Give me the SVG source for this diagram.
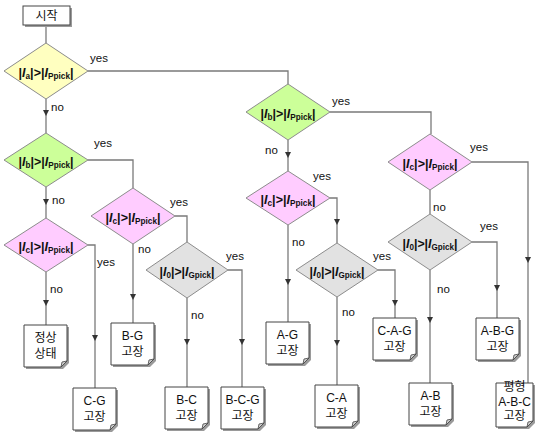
<svg xmlns="http://www.w3.org/2000/svg" xmlns:xlink="http://www.w3.org/1999/xlink" width="536" height="432" viewBox="0 0 536 432">
<style>
.c{fill:none;stroke:#7a7a7a;stroke-width:1.3}
.d{stroke:#8c8c8c;stroke-width:1}
.y{fill:#ffffc0}.g{fill:#ccff99}.p{fill:#ffccff}.q{fill:#e2e2e2}
.dt{font-family:"Liberation Sans",Arial,sans-serif;font-size:13px;font-weight:bold;fill:#111;text-anchor:middle}
.s{font-size:8.5px}
.i{font-style:italic}
.lb{font-family:"Liberation Sans",Arial,sans-serif;font-size:11.5px;fill:#111}
.bt{font-family:"Liberation Sans","Noto Sans CJK KR",sans-serif;font-size:12px;fill:#111;text-anchor:middle}
</style>
<defs>
<path id="ah" d="M-3,-3 L3,-3 L0,3 Z" fill="#333"/>
<g id="doc">
<path d="M2,2 h43 v36 l-6,6 h-37 z" fill="#9a9a9a"/>
<path d="M0,0 h43 v36 l-6,6 h-37 z" fill="#fff" stroke="#444" stroke-width="1"/>
<path d="M43,36 l-6,6 l1,-5 z" fill="#d0d0d0" stroke="#444" stroke-width="0.8"/>
</g>
<g id="doc2">
<path d="M2,2 h37 v38 l-6,6 h-31 z" fill="#9a9a9a"/>
<path d="M0,0 h37 v38 l-6,6 h-31 z" fill="#fff" stroke="#444" stroke-width="1"/>
<path d="M37,38 l-6,6 l1,-5 z" fill="#d0d0d0" stroke="#444" stroke-width="0.8"/>
</g>
</defs>

<g id="connectors">
<path class="c" d="M46,25 V43"/>
<path class="c" d="M46,99 V133"/>
<path class="c" d="M88,71 H288 V84"/>
<path class="c" d="M88,160 H133 V188"/>
<path class="c" d="M46,187 V218"/>
<path class="c" d="M46,272 V325"/>
<path class="c" d="M88,245 H95 V388"/>
<path class="c" d="M133,244 V323"/>
<path class="c" d="M175,216 H187 V242"/>
<path class="c" d="M187,298 V387"/>
<path class="c" d="M228,270 H242 V387"/>
<path class="c" d="M330,112 H431 V134"/>
<path class="c" d="M288,140 V171"/>
<path class="c" d="M288,225 V322"/>
<path class="c" d="M330,198 H337 V243"/>
<path class="c" d="M378,270 H395 V318"/>
<path class="c" d="M337,297 V385"/>
<path class="c" d="M472,162 H528 V383"/>
<path class="c" d="M430,190 V214"/>
<path class="c" d="M472,242 H497 V318"/>
<path class="c" d="M430,270 V383"/>
<use xlink:href="#ah" x="46" y="113"/>
<use xlink:href="#ah" x="46" y="202"/>
<use xlink:href="#ah" x="46" y="303"/>
<use xlink:href="#ah" x="95" y="338"/>
<use xlink:href="#ah" x="133" y="297"/>
<use xlink:href="#ah" x="187" y="342"/>
<use xlink:href="#ah" x="242" y="342"/>
<use xlink:href="#ah" x="288" y="155"/>
<use xlink:href="#ah" x="337" y="222"/>
<use xlink:href="#ah" x="288" y="282"/>
<use xlink:href="#ah" x="395" y="303"/>
<use xlink:href="#ah" x="337" y="343"/>
<use xlink:href="#ah" x="528" y="260"/>
<use xlink:href="#ah" x="497" y="288"/>
<use xlink:href="#ah" x="430" y="320"/>
<text class="lb" x="90" y="62">yes</text>
<text class="lb" x="51" y="111">no</text>
<text class="lb" x="94" y="147">yes</text>
<text class="lb" x="52" y="204">no</text>
<text class="lb" x="97" y="266">yes</text>
<text class="lb" x="50" y="293">no</text>
<text class="lb" x="170" y="206">yes</text>
<text class="lb" x="138" y="253">no</text>
<text class="lb" x="226" y="260">yes</text>
<text class="lb" x="191" y="319">no</text>
<text class="lb" x="332" y="105">yes</text>
<text class="lb" x="265" y="154">no</text>
<text class="lb" x="313" y="180">yes</text>
<text class="lb" x="292" y="246">no</text>
<text class="lb" x="373" y="260">yes</text>
<text class="lb" x="342" y="316">no</text>
<text class="lb" x="470" y="151">yes</text>
<text class="lb" x="433" y="211">no</text>
<text class="lb" x="480" y="230">yes</text>
<text class="lb" x="437" y="293">no</text>
</g>

<g id="start">
<rect x="25" y="8" width="47" height="19" fill="#9a9a9a"/>
<rect x="23" y="6" width="47" height="19" fill="#fff" stroke="#444"/>
<text class="bt" x="46.5" y="20">시작</text>
</g>

<g id="d1">
<polygon class="d y" points="46,43 88,71 46,99 4,71"/>
<text class="dt" x="46" y="77" textLength="55" lengthAdjust="spacingAndGlyphs">|<tspan class="i">I</tspan><tspan class="s" dy="2">a</tspan><tspan dy="-2">|&gt;|</tspan><tspan class="i">I</tspan><tspan class="s" dy="2">Ppick</tspan><tspan dy="-2">|</tspan></text>
</g>
<g id="d2">
<polygon class="d g" points="46,133 88,160 46,187 4,160"/>
<text class="dt" x="46" y="166" textLength="55" lengthAdjust="spacingAndGlyphs">|<tspan class="i">I</tspan><tspan class="s" dy="2">b</tspan><tspan dy="-2">|&gt;|</tspan><tspan class="i">I</tspan><tspan class="s" dy="2">Ppick</tspan><tspan dy="-2">|</tspan></text>
</g>
<g id="d3">
<polygon class="d p" points="46,218 88,245 46,272 4,245"/>
<text class="dt" x="46" y="251" textLength="55" lengthAdjust="spacingAndGlyphs">|<tspan class="i">I</tspan><tspan class="s" dy="2">c</tspan><tspan dy="-2">|&gt;|</tspan><tspan class="i">I</tspan><tspan class="s" dy="2">Ppick</tspan><tspan dy="-2">|</tspan></text>
</g>
<g id="d4">
<polygon class="d p" points="133,188 175,216 133,244 91,216"/>
<text class="dt" x="133" y="222" textLength="55" lengthAdjust="spacingAndGlyphs">|<tspan class="i">I</tspan><tspan class="s" dy="2">c</tspan><tspan dy="-2">|&gt;|</tspan><tspan class="i">I</tspan><tspan class="s" dy="2">Ppick</tspan><tspan dy="-2">|</tspan></text>
</g>
<g id="d5">
<polygon class="d q" points="187,242 228,270 187,298 146,270"/>
<text class="dt" x="187" y="276" textLength="55" lengthAdjust="spacingAndGlyphs">|<tspan class="i">I</tspan><tspan class="s" dy="2">0</tspan><tspan dy="-2">|&gt;|</tspan><tspan class="i">I</tspan><tspan class="s" dy="2">Gpick</tspan><tspan dy="-2">|</tspan></text>
</g>
<g id="d6">
<polygon class="d g" points="288,84 330,112 288,140 246,112"/>
<text class="dt" x="288" y="118" textLength="55" lengthAdjust="spacingAndGlyphs">|<tspan class="i">I</tspan><tspan class="s" dy="2">b</tspan><tspan dy="-2">|&gt;|</tspan><tspan class="i">I</tspan><tspan class="s" dy="2">Ppick</tspan><tspan dy="-2">|</tspan></text>
</g>
<g id="d7">
<polygon class="d p" points="288,171 330,198 288,225 246,198"/>
<text class="dt" x="288" y="204" textLength="55" lengthAdjust="spacingAndGlyphs">|<tspan class="i">I</tspan><tspan class="s" dy="2">c</tspan><tspan dy="-2">|&gt;|</tspan><tspan class="i">I</tspan><tspan class="s" dy="2">Ppick</tspan><tspan dy="-2">|</tspan></text>
</g>
<g id="d8">
<polygon class="d q" points="337,243 378,270 337,297 296,270"/>
<text class="dt" x="337" y="276" textLength="55" lengthAdjust="spacingAndGlyphs">|<tspan class="i">I</tspan><tspan class="s" dy="2">0</tspan><tspan dy="-2">|&gt;|</tspan><tspan class="i">I</tspan><tspan class="s" dy="2">Gpick</tspan><tspan dy="-2">|</tspan></text>
</g>
<g id="d9">
<polygon class="d p" points="430,134 472,162 430,190 388,162"/>
<text class="dt" x="430" y="168" textLength="55" lengthAdjust="spacingAndGlyphs">|<tspan class="i">I</tspan><tspan class="s" dy="2">c</tspan><tspan dy="-2">|&gt;|</tspan><tspan class="i">I</tspan><tspan class="s" dy="2">Ppick</tspan><tspan dy="-2">|</tspan></text>
</g>
<g id="d10">
<polygon class="d q" points="430,214 472,242 430,270 388,242"/>
<text class="dt" x="430" y="248" textLength="55" lengthAdjust="spacingAndGlyphs">|<tspan class="i">I</tspan><tspan class="s" dy="2">0</tspan><tspan dy="-2">|&gt;|</tspan><tspan class="i">I</tspan><tspan class="s" dy="2">Gpick</tspan><tspan dy="-2">|</tspan></text>
</g>

<g id="b-normal"><use xlink:href="#doc" x="24" y="325"/><text class="bt" x="45.5" y="342">정상</text><text class="bt" x="45.5" y="358">상태</text></g>
<g id="b-cg"><use xlink:href="#doc" x="73" y="388"/><text class="bt" x="94.5" y="405">C-G</text><text class="bt" x="94.5" y="421">고장</text></g>
<g id="b-bg"><use xlink:href="#doc" x="111" y="323"/><text class="bt" x="132.5" y="340">B-G</text><text class="bt" x="132.5" y="356">고장</text></g>
<g id="b-bc"><use xlink:href="#doc" x="165" y="387"/><text class="bt" x="186.5" y="404">B-C</text><text class="bt" x="186.5" y="420">고장</text></g>
<g id="b-bcg"><use xlink:href="#doc" x="221" y="387"/><text class="bt" x="242.5" y="404">B-C-G</text><text class="bt" x="242.5" y="420">고장</text></g>
<g id="b-ag"><use xlink:href="#doc" x="266" y="322"/><text class="bt" x="287.5" y="339">A-G</text><text class="bt" x="287.5" y="355">고장</text></g>
<g id="b-ca"><use xlink:href="#doc" x="315" y="385"/><text class="bt" x="336.5" y="402">C-A</text><text class="bt" x="336.5" y="418">고장</text></g>
<g id="b-cag"><use xlink:href="#doc" x="373" y="318"/><text class="bt" x="394.5" y="335">C-A-G</text><text class="bt" x="394.5" y="351">고장</text></g>
<g id="b-ab"><use xlink:href="#doc" x="409" y="383"/><text class="bt" x="430.5" y="400">A-B</text><text class="bt" x="430.5" y="416">고장</text></g>
<g id="b-abg"><use xlink:href="#doc" x="476" y="318"/><text class="bt" x="497.5" y="335">A-B-G</text><text class="bt" x="497.5" y="351">고장</text></g>
<g id="b-abc"><use xlink:href="#doc2" x="496" y="383"/><text class="bt" x="514.5" y="391">평형</text><text class="bt" x="514.5" y="406">A-B-C</text><text class="bt" x="514.5" y="420">고장</text></g>
</svg>
